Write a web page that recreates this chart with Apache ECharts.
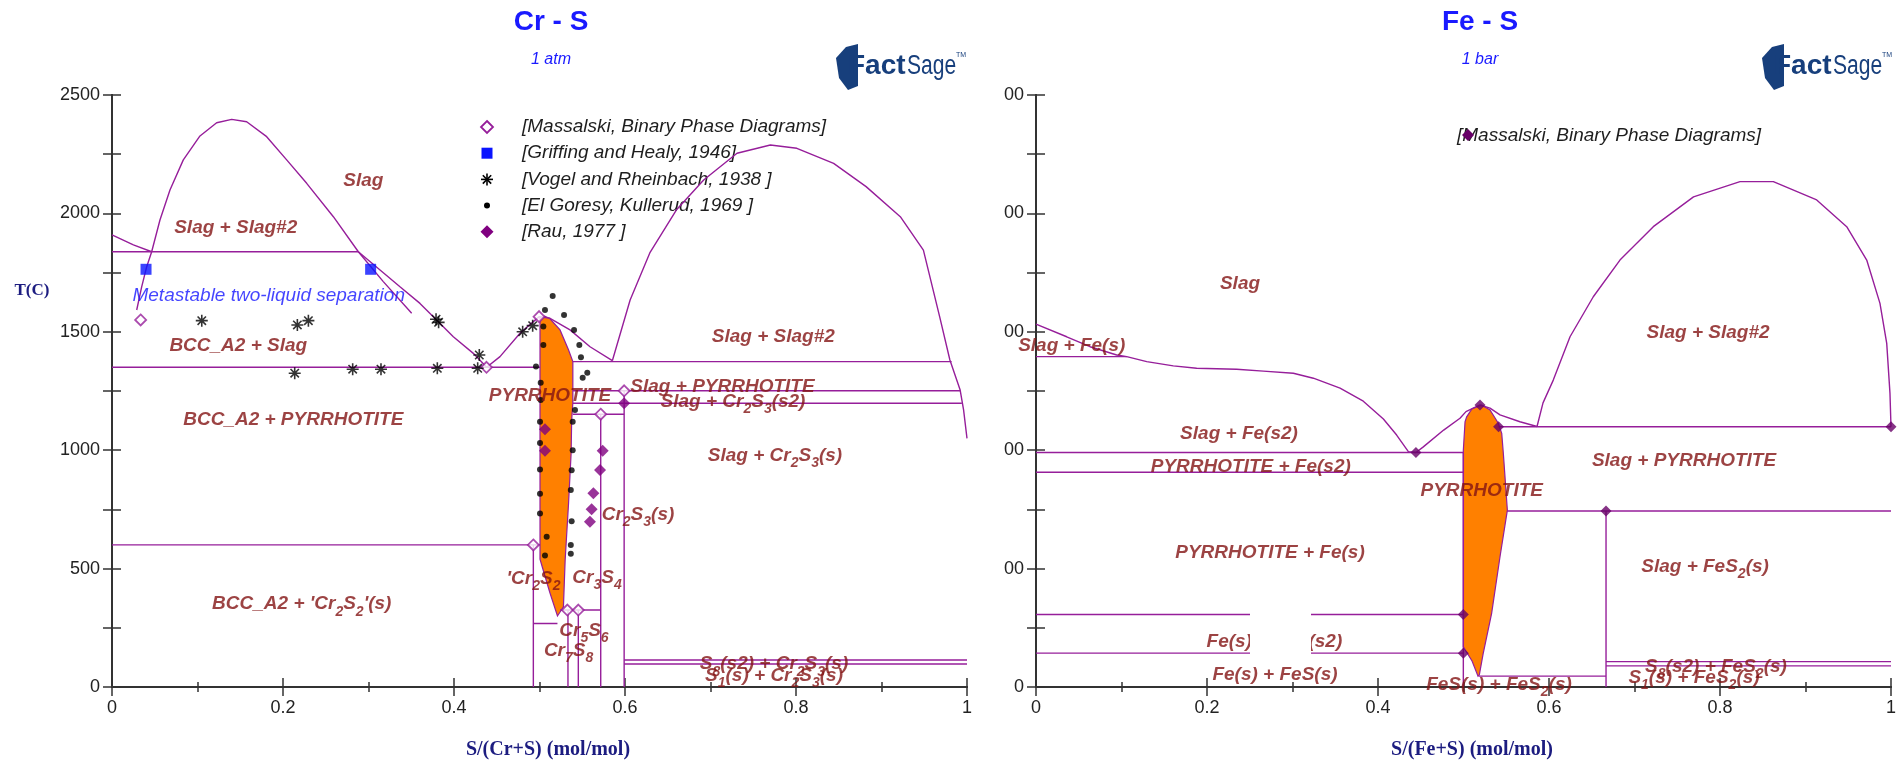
<!DOCTYPE html>
<html>
<head>
<meta charset="utf-8">
<script src="https://cdn.jsdelivr.net/npm/echarts@6/dist/echarts.min.js"></script>
<style>
  html, body { margin: 0; padding: 0; background: #fff; }
  #chart { width: 1899px; height: 760px; }
</style>
</head>
<body>
<div id="chart"></div>
<script>
// ---------- axes ----------
const xTicks = [0, 0.2, 0.4, 0.6, 0.8, 1];
const tTicks = [0, 500, 1000, 1500, 2000, 2500];

// ---------- Cr - S system (x = S/(Cr+S), T in C) ----------
const crLiquidusCr = [[0, 1909], [0.025, 1867], [0.0464, 1838]];
const crGapLeft = [[0.0289, 1592], [0.0347, 1690], [0.0406, 1775], [0.0464, 1838], [0.0561, 1972], [0.0678, 2099],
  [0.0834, 2226], [0.1029, 2327], [0.1224, 2383], [0.140, 2397], [0.1575, 2387], [0.1809, 2324], [0.2043, 2226],
  [0.2277, 2127], [0.2589, 1986], [0.2881, 1838], [0.3173, 1712], [0.3505, 1578]];
const crLiquidusMid = [[0.2881, 1838], [0.3135, 1761], [0.3368, 1690], [0.3602, 1620], [0.3758, 1564], [0.3992, 1479],
  [0.4226, 1409], [0.4382, 1350], [0.4538, 1395], [0.4772, 1494], [0.4928, 1543], [0.4998, 1564], [0.5123, 1557],
  [0.5357, 1508], [0.5591, 1437], [0.5852, 1378]];
const crGapRight = [[0.5852, 1378], [0.606, 1634], [0.629, 1833], [0.660, 2014], [0.692, 2141], [0.731, 2254],
  [0.770, 2289], [0.801, 2275], [0.844, 2211], [0.882, 2113], [0.922, 1986], [0.949, 1845], [0.968, 1564],
  [0.980, 1381], [0.992, 1254], [0.996, 1170], [1.0, 1050]];
const crPyrrhotite = [[0.5006, 1560], [0.506, 1566], [0.512, 1556], [0.524, 1508], [0.534, 1423], [0.539, 1374],
  [0.539, 1200], [0.5376, 1127], [0.537, 988], [0.534, 777], [0.530, 536], [0.528, 339], [0.521, 300],
  [0.512, 400], [0.503, 510], [0.5006, 540]];
const crTieLines = [
  [[0, 1838], [0.2881, 1838]],
  [[0, 1350], [0.5006, 1350]],
  [[0, 600], [0.5006, 600]],
  [[0.4928, 600], [0.4928, 0]],
  [[0.4928, 268], [0.521, 268]],
  [[0.524, 325], [0.5716, 325]],
  [[0.5333, 325], [0.5333, 0]],
  [[0.5454, 325], [0.5454, 0]],
  [[0.5716, 1152], [0.5716, 0]],
  [[0.539, 1152], [0.599, 1152]],
  [[0.599, 1251], [0.599, 0]],
  [[0.539, 1374], [0.982, 1374]],
  [[0.539, 1251], [0.992, 1251]],
  [[0.539, 1198], [0.994, 1198]],
  [[0.599, 114], [1, 114]],
  [[0.599, 97], [1, 97]]
];
const crMassalski = [[0.0335, 1550], [0.438, 1350], [0.4995, 1564], [0.4928, 600], [0.5326, 325], [0.5454, 325],
  [0.5716, 1152], [0.599, 1251]];
const crGriffing = [[0.0398, 1764], [0.3025, 1764]];
const crVogel = [[0.105, 1547], [0.2168, 1529], [0.2297, 1547], [0.379, 1553], [0.382, 1540], [0.4296, 1402],
  [0.4803, 1500], [0.492, 1526], [0.2137, 1325], [0.2815, 1342], [0.3146, 1342], [0.3805, 1346], [0.4277, 1346]];
const crElGoresy = [[0.5154, 1651], [0.5064, 1592], [0.5287, 1571], [0.5404, 1508], [0.5045, 1522], [0.5466, 1444],
  [0.5045, 1444], [0.5485, 1392], [0.4959, 1353], [0.5559, 1327], [0.5505, 1306], [0.5014, 1285], [0.5014, 1212],
  [0.5415, 1170], [0.5006, 1120], [0.5388, 1120], [0.5006, 1030], [0.5388, 1000], [0.5006, 918], [0.5376, 915],
  [0.5006, 816], [0.5366, 832], [0.5006, 733], [0.5376, 700], [0.5084, 635], [0.5366, 600], [0.5064, 555],
  [0.5366, 563]];
const crRau = [[0.599, 1198], [0.5064, 1088], [0.5064, 998], [0.5739, 998], [0.5708, 916], [0.563, 818],
  [0.561, 751], [0.559, 698]];
const crLegendNames = ['[Massalski, Binary Phase Diagrams]', '[Griffing and Healy, 1946]',
  '[Vogel and Rheinbach, 1938 ]', '[El Goresy, Kullerud, 1969 ]', '[Rau, 1977 ]'];
// phase-field names, "~n" marks a subscript digit
const crLabels = [
  ['Slag', 0.294, 2148], ['Slag + Slag#2', 0.1447, 1948], ['BCC_A2 + Slag', 0.1477, 1451],
  ['BCC_A2 + PYRRHOTITE', 0.212, 1141], ["BCC_A2 + 'Cr~2S~2'(s)", 0.2219, 360], ['PYRRHOTITE', 0.5123, 1240],
  ['Slag + Slag#2', 0.7735, 1491], ['Slag + PYRRHOTITE', 0.714, 1280], ['Slag + Cr~2S~3(s2)', 0.7263, 1215],
  ['Slag + Cr~2S~3(s)', 0.7754, 989], ['Cr~2S~3(s)', 0.6152, 740], ["'Cr~2S~2", 0.493, 467], ['Cr~3S~4', 0.5673, 473],
  ['Cr~5S~6', 0.552, 249], ['Cr~7S~8', 0.534, 163], ['S~8(s2) + Cr~2S~3(s)', 0.7743, 107],
  ['S~1(s) + Cr~2S~3(s)', 0.7743, 58]
];
const crNotes = [['Metastable two-liquid separation', 0.1833, 1665]];

// ---------- Fe - S system (x = S/(Fe+S), T in C) ----------
const feLiquidusFe = [[0, 1532], [0.0359, 1479], [0.0632, 1437], [0.0944, 1402], [0.1061, 1395], [0.1295, 1374],
  [0.1606, 1356], [0.1879, 1346], [0.2347, 1342], [0.2659, 1334], [0.3010, 1325], [0.3244, 1304], [0.3556, 1262],
  [0.3828, 1207], [0.4063, 1132], [0.4218, 1064], [0.4355, 994], [0.4444, 990]];
const feLiquidusPyr = [[0.4444, 990], [0.453, 1014], [0.4768, 1085], [0.4959, 1135], [0.5029, 1163], [0.5193, 1191],
  [0.531, 1178], [0.5427, 1149], [0.566, 1120], [0.586, 1100]];
const feGapRight = [[0.586, 1100], [0.593, 1200], [0.605, 1296], [0.6246, 1479], [0.6518, 1648], [0.683, 1803],
  [0.722, 1944], [0.769, 2070], [0.8234, 2134], [0.8624, 2134], [0.9131, 2057], [0.9482, 1944], [0.9716, 1803],
  [0.9871, 1620], [0.995, 1451], [0.9988, 1240], [1.0, 1099]];
const fePyrrhotite = [[0.4998, 1000], [0.5018, 1120], [0.5037, 1141], [0.510, 1175], [0.5213, 1190], [0.531, 1170],
  [0.5407, 1114], [0.5447, 1071], [0.5466, 986], [0.5513, 747], [0.5427, 550], [0.5329, 311], [0.523, 141],
  [0.5185, 51], [0.517, 46], [0.510, 110], [0.4998, 170]];
const feTieLines = [
  [[0, 1395], [0.1061, 1395]],
  [[0, 990], [0.4998, 990]],
  [[0, 907], [0.4998, 907]],
  [[0, 306], [0.4998, 306]],
  [[0, 143], [0.4998, 143]],
  [[0.4998, 990], [0.4998, 0]],
  [[0.541, 1099], [1, 1099]],
  [[0.551, 743], [1, 743]],
  [[0.6667, 743], [0.6667, 0]],
  [[0.6667, 107], [1, 107]],
  [[0.6667, 89], [1, 89]],
  [[0.518, 46], [0.6667, 46]]
];
const feMassalski = [[0.5193, 1191], [0.541, 1099], [0.6667, 743], [0.4444, 990], [0.4998, 306], [0.4998, 143], [1.0, 1099]];
const feLabels = [
  ['Slag', 0.2386, 1712], ['Slag + Fe(s)', 0.0418, 1451], ['Slag + Fe(s2)', 0.2374, 1078],
  ['PYRRHOTITE + Fe(s2)', 0.2512, 942], ['PYRRHOTITE + Fe(s)', 0.2737, 576], ['Fe(s) + FeS(s2)', 0.2788, 201],
  ['Fe(s) + FeS(s)', 0.2795, 62], ['PYRRHOTITE', 0.5213, 839], ['Slag + Slag#2', 0.786, 1505],
  ['Slag + PYRRHOTITE', 0.7579, 966], ['Slag + FeS~2(s)', 0.7825, 519], ['FeS(s) + FeS~2(s)', 0.5415, 22],
  ['S~8(s2) + FeS~2(s)', 0.7953, 97], ['S~1(s) + FeS~2(s)', 0.7696, 51]
];

// ---------- styling ----------
const SANS = '"Liberation Sans", Arial, sans-serif';
const SERIF = '"Liberation Serif", "Times New Roman", serif';
const LINE = '#961e9a';
const PHASE = '#831414';
const AXIS = '#333';
const NAVY = '#1c1c80';
const TITLE = '#1a1aff';
const GRIDS = [
  { left: 112, top: 95, width: 855, height: 592 },
  { left: 1036, top: 95, width: 855, height: 592 }
];

function richText(s) {
  return '{m|' + s.replace(/~(\d)/g, '}{s|$1}{m|') + '}';
}

function xAxes(g, name) {
  const tick = { lineStyle: { color: AXIS, width: 1.5 } };
  const base = {
    gridIndex: g, type: 'value', min: xTicks[0], max: xTicks[xTicks.length - 1], interval: 0.2,
    axisLine: { show: true, lineStyle: { color: AXIS, width: 2 } },
    axisTick: Object.assign({ inside: true, length: 9 }, tick),
    minorTick: Object.assign({ show: true, splitNumber: 2, length: 5 }, tick),
    splitLine: { show: false }, minorSplitLine: { show: false }
  };
  return [
    Object.assign({}, base, {
      position: 'bottom',
      axisLabel: { margin: 12, fontSize: 18, color: '#222', fontFamily: SANS },
      name: name, nameLocation: 'middle', nameGap: 53,
      nameTextStyle: { fontFamily: SERIF, fontWeight: 'bold', fontSize: 20, color: NAVY, padding: [0, 0, 0, 17] }
    }),
    Object.assign({}, base, { position: 'top', axisLabel: { show: false } })
  ];
}

function yAxes(g, fmt) {
  const tick = { lineStyle: { color: AXIS, width: 1.5 } };
  const base = {
    gridIndex: g, type: 'value', min: tTicks[0], max: tTicks[tTicks.length - 1], interval: 500,
    axisLine: { show: true, lineStyle: { color: AXIS, width: 2 } },
    axisTick: Object.assign({ inside: true, length: 9 }, tick),
    minorTick: Object.assign({ show: true, splitNumber: 2, length: 9 }, tick),
    splitLine: { show: false }, minorSplitLine: { show: false }
  };
  return [
    Object.assign({}, base, {
      position: 'left',
      axisLabel: { margin: 12, fontSize: 18, color: '#222', fontFamily: SANS, formatter: fmt }
    }),
    Object.assign({}, base, { position: 'right', axisLabel: { show: false } })
  ];
}

function curve(pts, g) {
  return {
    type: 'line', xAxisIndex: g * 2, yAxisIndex: g * 2, data: pts, symbol: 'none', silent: true,
    lineStyle: { color: LINE, width: 1.4 }, z: 3
  };
}

function region(pts, g) {
  return {
    type: 'custom', xAxisIndex: g * 2, yAxisIndex: g * 2, data: [[0.5, 1000]], silent: true, z: 1,
    renderItem: (params, api) => ({
      type: 'polygon',
      shape: { points: pts.map(p => api.coord(p)) },
      style: { fill: '#ff8000', stroke: LINE, lineWidth: 1.2 }
    })
  };
}

function markers(name, pts, g, symbol, size, itemStyle) {
  return {
    type: 'scatter', name: name, xAxisIndex: g * 2, yAxisIndex: g * 2, data: pts, symbol: symbol,
    symbolSize: size, itemStyle: itemStyle, silent: true, z: 6
  };
}

function labels(list, g, style) {
  return {
    type: 'scatter', xAxisIndex: g * 2, yAxisIndex: g * 2, symbolSize: 0, silent: true, z: 8,
    data: list.map(l => ({ name: l[0], value: [l[1], l[2]] })),
    label: {
      show: true, position: 'inside', offset: [0, 5], formatter: p => richText(p.name),
      rich: {
        m: Object.assign({ lineHeight: 24, verticalAlign: 'top' }, style),
        s: Object.assign({}, style, { fontSize: 14, lineHeight: 12, verticalAlign: 'bottom' })
      }
    }
  };
}

const phaseStyle = { color: PHASE, fontSize: 19, fontStyle: 'italic', fontWeight: 'bold', fontFamily: SANS };
const noteStyle = { color: '#1515ff', fontSize: 19, fontStyle: 'italic', fontWeight: 'normal', fontFamily: SANS };

const ASTERISK = 'path://M0,5L10,5M5,0L5,10M1.5,1.5L8.5,8.5M8.5,1.5L1.5,8.5';

const series = [];
series.push(region(crPyrrhotite, 0));
[crLiquidusCr, crGapLeft, crLiquidusMid, crGapRight].concat(crTieLines).forEach(p => series.push(curve(p, 0)));
series.push(markers(crLegendNames[0], crMassalski, 0, 'diamond', 11, { color: '#fff', borderColor: LINE, borderWidth: 1.8 }));
series.push(markers(crLegendNames[1], crGriffing, 0, 'rect', 11, { color: '#0a14ff' }));
series.push(markers(crLegendNames[2], crVogel, 0, ASTERISK, 12, { color: 'transparent', borderColor: '#000', borderWidth: 1.6 }));
series.push(markers(crLegendNames[3], crElGoresy, 0, 'circle', 6, { color: '#000' }));
series.push(markers(crLegendNames[4], crRau, 0, 'diamond', 12, { color: '#800080' }));
series.push(labels(crLabels, 0, phaseStyle));
series.push(labels(crNotes, 0, noteStyle));

series.push(region(fePyrrhotite, 1));
[feLiquidusFe, feLiquidusPyr, feGapRight].concat(feTieLines).forEach(p => series.push(curve(p, 1)));
series.push(markers('Massalski Fe-S', feMassalski, 1, 'diamond', 11, { color: '#680068' }));
series.push(labels(feLabels, 1, phaseStyle));

// ---------- decorations: titles, logos, legend keys ----------
function logo(x, y) {
  const c = '#173f7c';
  return {
    type: 'group', x: x, y: y, silent: true, children: [
      { type: 'polygon', shape: { points: [[0, 16], [10, 5], [22, 2], [22, 44], [12, 48], [3, 36]] }, style: { fill: c } },
      { type: 'text', style: { text: 'Fact', x: 12, y: 38, fill: c, font: 'bold 28px ' + SANS, verticalAlign: 'bottom' } },
      { type: 'text', x: 71, y: 38, scaleX: 0.78, style: { text: 'Sage', x: 0, y: 0, fill: c, font: '27px ' + SANS, verticalAlign: 'bottom' } },
      { type: 'text', style: { text: 'TM', x: 120, y: 10, fill: c, font: '7px ' + SANS } }
    ]
  };
}

function centerText(text, x, y, font, fill) {
  return { type: 'text', x: x, y: y, silent: true, style: { text: text, font: font, fill: fill, align: 'center', verticalAlign: 'middle' } };
}

function starIcon() {
  const st = { stroke: '#000', lineWidth: 1.6 };
  return { type: 'group', children: [
    { type: 'line', shape: { x1: -6, y1: 0, x2: 6, y2: 0 }, style: st },
    { type: 'line', shape: { x1: 0, y1: -6, x2: 0, y2: 6 }, style: st },
    { type: 'line', shape: { x1: -4.2, y1: -4.2, x2: 4.2, y2: 4.2 }, style: st },
    { type: 'line', shape: { x1: 4.2, y1: -4.2, x2: -4.2, y2: 4.2 }, style: st }
  ] };
}

const legendTop = 127, legendStep = 26.2, legendIconX = 487, legendTextX = 522;
const legendIcons = [
  { type: 'polygon', shape: { points: [[0, -6], [6, 0], [0, 6], [-6, 0]] }, style: { fill: '#fff', stroke: LINE, lineWidth: 1.8 } },
  { type: 'rect', shape: { x: -5.5, y: -5.5, width: 11, height: 11 }, style: { fill: '#0a14ff' } },
  starIcon(),
  { type: 'circle', shape: { cx: 0, cy: 0, r: 3 }, style: { fill: '#000' } },
  { type: 'polygon', shape: { points: [[0, -6.5], [6.5, 0], [0, 6.5], [-6.5, 0]] }, style: { fill: '#800080' } }
];
const legendGraphics = [];
crLegendNames.forEach((n, i) => {
  const y = legendTop + i * legendStep;
  legendGraphics.push({ type: 'group', x: legendIconX, y: y, silent: true, children: [legendIcons[i]] });
  legendGraphics.push({ type: 'text', x: legendTextX, y: y, silent: true,
    style: { text: n, font: 'italic 19px ' + SANS, fill: '#1e1e1e', verticalAlign: 'middle' } });
});

const graphic = [
  centerText('Cr - S', 551, 22, 'bold 28px ' + SANS, TITLE),
  centerText('1 atm', 551, 60, 'italic 16px ' + SANS, TITLE),
  centerText('Fe - S', 1480, 22, 'bold 28px ' + SANS, TITLE),
  centerText('1 bar', 1480, 60, 'italic 16px ' + SANS, TITLE),
  centerText('T(C)', 32, 291, 'bold 17px ' + SERIF, NAVY),
  logo(836, 42),
  logo(1762, 42),
  // Fe-S source note
  { type: 'text', x: 1457, y: 136, silent: true, z: 50,
    style: { text: '[Massalski, Binary Phase Diagrams]', font: 'italic 19px ' + SANS, fill: '#1e1e1e', verticalAlign: 'middle' } },
  { type: 'polygon', x: 1468, y: 135, silent: true, z: 51,
    shape: { points: [[0, -6], [6, 0], [0, 6], [-6, 0]] }, style: { fill: '#680068' } },
  // blank patch over the Fe(s) + FeS(s2) field
  { type: 'rect', silent: true, z: 100, shape: { x: 1250, y: 605, width: 61, height: 56 }, style: { fill: '#fff' } }
].concat(legendGraphics);

const option = {
  backgroundColor: '#fff',
  animation: false,
  grid: GRIDS.map(g => Object.assign({ outerBoundsMode: 'none', containLabel: false }, g)),
  xAxis: xAxes(0, 'S/(Cr+S) (mol/mol)').concat(xAxes(1, 'S/(Fe+S) (mol/mol)')),
  yAxis: yAxes(0, v => String(v)).concat(yAxes(1, v => String(v).slice(-2))),
  series: series,
  graphic: graphic
};

const chart = echarts.init(document.getElementById('chart'));
chart.setOption(option);
</script>
</body>
</html>
